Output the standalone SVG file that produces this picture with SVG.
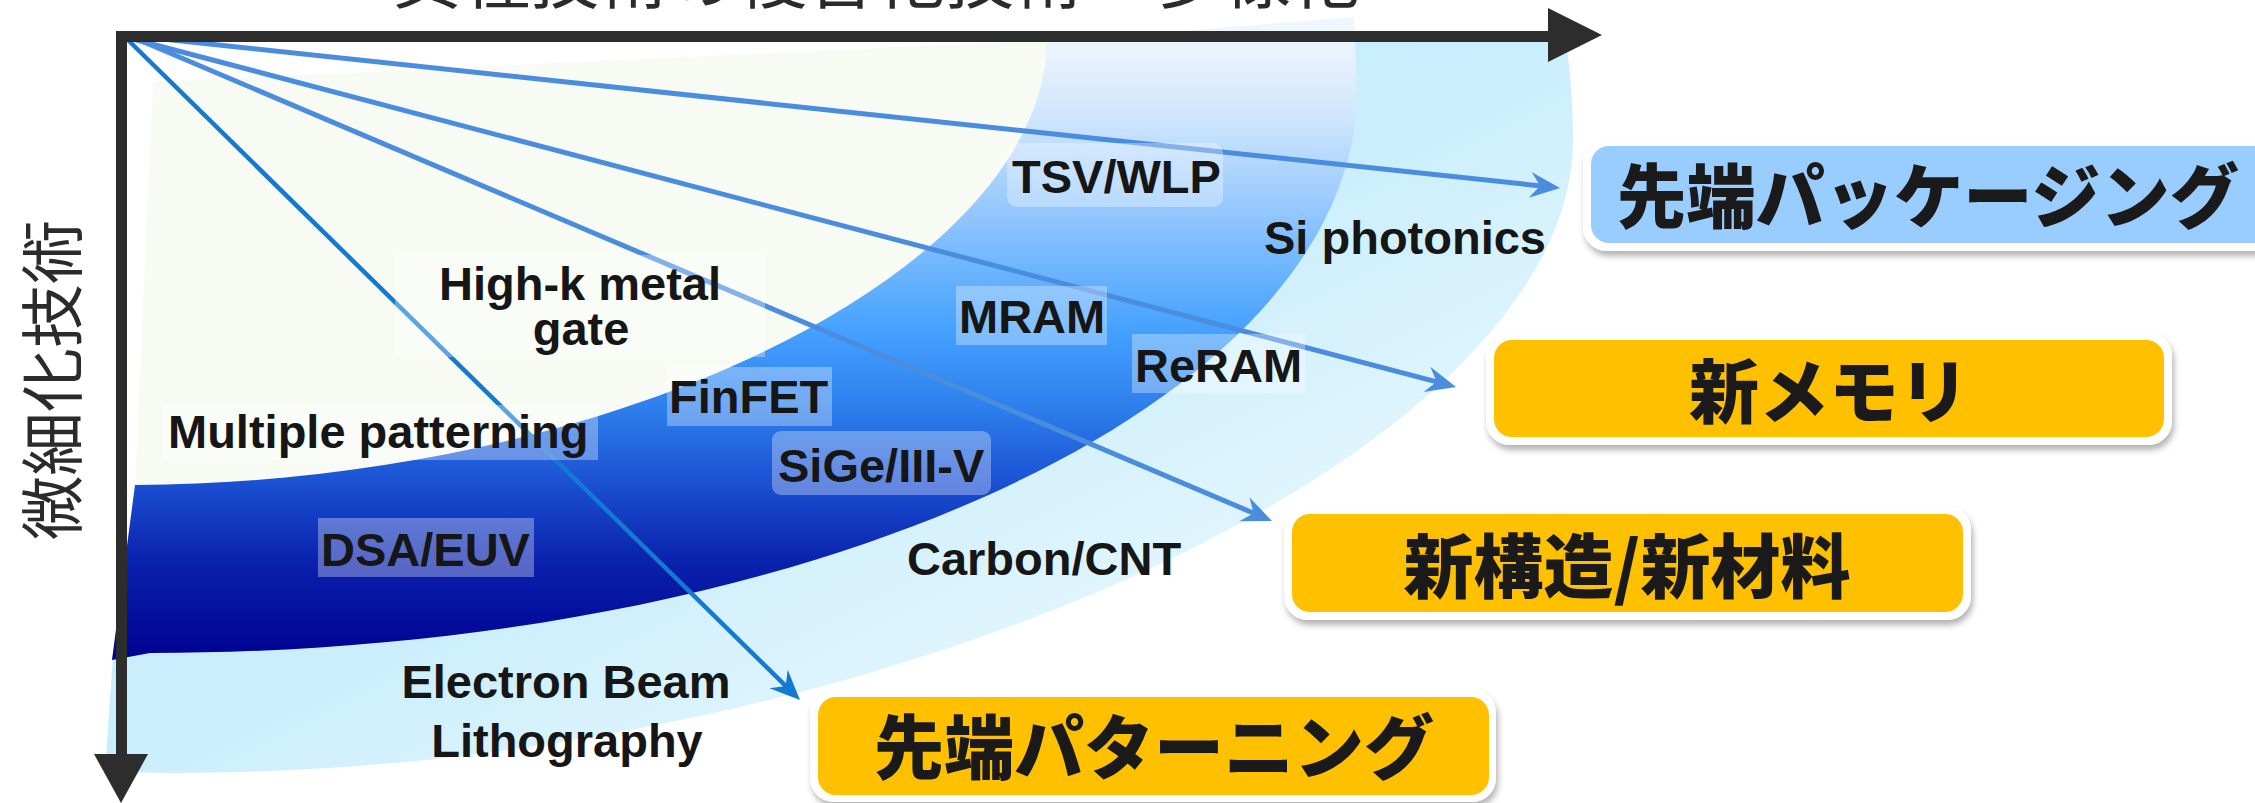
<svg xmlns="http://www.w3.org/2000/svg" width="2255" height="803" viewBox="0 0 2255 803">
<defs>
  <linearGradient id="gBlue" gradientUnits="userSpaceOnUse" x1="0" y1="38" x2="0" y2="660">
    <stop offset="0" stop-color="#eef6fe"/>
    <stop offset="0.13" stop-color="#cfe5fd"/>
    <stop offset="0.29" stop-color="#8fc5fe"/>
    <stop offset="0.47" stop-color="#45a1ff"/>
    <stop offset="0.60" stop-color="#2c7deb"/>
    <stop offset="0.71" stop-color="#1c52d4"/>
    <stop offset="0.84" stop-color="#0a22ad"/>
    <stop offset="1" stop-color="#000090"/>
  </linearGradient>
  <linearGradient id="gCyan" x1="0" y1="0" x2="1" y2="1">
    <stop offset="0" stop-color="#b8e8fb"/>
    <stop offset="0.5" stop-color="#cbeefc"/>
    <stop offset="1" stop-color="#fafeff"/>
  </linearGradient>
  <filter id="shadow" x="-5%" y="-20%" width="110%" height="150%">
    <feDropShadow dx="2" dy="5" stdDeviation="3" flood-color="#000" flood-opacity="0.3"/>
  </filter>
  <marker id="ah" markerUnits="userSpaceOnUse" viewBox="-32 -16 36 32" markerWidth="36" markerHeight="32" refX="-14" refY="0" orient="auto">
    <path d="M0,0 L-30,-13 L-20,0 L-30,13 Z" fill="#4a8ddf"/>
  </marker>
  <marker id="ah2" markerUnits="userSpaceOnUse" viewBox="-32 -16 36 32" markerWidth="36" markerHeight="32" refX="-14" refY="0" orient="auto">
    <path d="M0,0 L-30,-13 L-20,0 L-30,13 Z" fill="#1479d0"/>
  </marker>
  <style>
    .lbl{font-family:"Liberation Sans",Arial,sans-serif;font-weight:700;font-size:47px;fill:#161616}
    .mid{text-anchor:middle}
    .hl{fill:#ffffff;fill-opacity:0.32}
    .jp{font-family:"Noto Sans CJK JP",sans-serif;font-weight:900;font-size:70px;fill:#1a1a1a;text-anchor:middle}
    .conn{fill:none;stroke:#4a8ddf;stroke-width:5;marker-end:url(#ah)}
    .axis{fill:#2d2d2d}
    .frame{fill:#ffffff;filter:url(#shadow)}
    .yel{fill:#ffc000}
    .ax-t{font-family:"Noto Sans CJK JP",sans-serif;font-weight:400;fill:#2b2b2b}
  </style>
</defs>
<rect width="2255" height="803" fill="#ffffff"/>

<g id="bands">
  <path d="M1354,42 L1566,42 C1571,75 1573,110 1573,140 C1573,456 874,773 175,773 L105,772 L113,655 Z" fill="url(#gCyan)"/>
  <path d="M1045,42 L1354,17 L1357,90 C1357,401 816,653 150,653 L112,660 L135,485 Z" fill="url(#gBlue)"/>
  <path d="M153,82 L1047,40 C1045,265 630,482 135,485 Z" fill="#f8fbf3"/>
</g>

<g id="connectors">
  <path class="conn" d="M125,35 L1546.1,186.5"/>
  <path class="conn" d="M125,37 L1442.5,383.4"/>
  <path class="conn" d="M125,34 L1259.1,515.5"/>
  <path class="conn" d="M126,38 L790,690.2" style="stroke:#1479d0;stroke-width:4.5;marker-end:url(#ah2)"/>
</g>

<g id="labels">
  <g id="lbl-highk">
    <rect class="hl" x="395" y="255" width="370" height="102"/>
    <text class="lbl mid" x="580" y="300">High-k metal</text>
    <text class="lbl mid" x="581" y="345">gate</text>
  </g>
  <g id="lbl-multi">
    <rect class="hl" x="163" y="405" width="435" height="55"/>
    <text class="lbl" x="168" y="448">Multiple patterning</text>
  </g>
  <g id="lbl-dsa">
    <rect class="hl" x="318" y="518" width="216" height="59"/>
    <text class="lbl" x="321" y="566">DSA/EUV</text>
  </g>
  <g id="lbl-finfet">
    <rect class="hl" x="667" y="367" width="165" height="59"/>
    <text class="lbl" x="669" y="413">FinFET</text>
  </g>
  <g id="lbl-sige">
    <rect class="hl" x="772" y="431" width="219" height="64" rx="9"/>
    <text class="lbl" x="778" y="482">SiGe/III-V</text>
  </g>
  <g id="lbl-mram">
    <rect class="hl" x="956" y="286" width="151" height="59"/>
    <text class="lbl" x="959" y="333">MRAM</text>
  </g>
  <g id="lbl-reram">
    <rect class="hl" x="1132" y="334" width="173" height="59"/>
    <text class="lbl" x="1135" y="382">ReRAM</text>
  </g>
  <g id="lbl-tsv">
    <rect class="hl" x="1007" y="143" width="216" height="64" rx="10"/>
    <text class="lbl" x="1012" y="193">TSV/WLP</text>
  </g>
  <g id="lbl-siph">
    <text class="lbl" x="1264" y="254">Si photonics</text>
  </g>
  <g id="lbl-carbon">
    <text class="lbl" x="907" y="575">Carbon/CNT</text>
  </g>
  <g id="lbl-ebl">
    <text class="lbl mid" x="566" y="698">Electron Beam</text>
    <text class="lbl mid" x="567" y="757">Lithography</text>
  </g>
</g>

<g id="axes">
  <rect class="axis" x="116" y="31" width="1436" height="11"/>
  <polygon class="axis" points="1548,8 1548,62 1602,35"/>
  <rect class="axis" x="116" y="31" width="11" height="725"/>
  <polygon class="axis" points="94,754 148,754 121,803"/>
  <text class="ax-t" x="392" y="3" font-size="68" textLength="968" lengthAdjust="spacingAndGlyphs">異種技術の複合化技術　多様化</text>
  <text class="ax-t" font-size="64" text-anchor="middle" transform="translate(76,380) rotate(-90)">微細化技術</text>
</g>

<g id="node-packaging">
  <rect class="frame" x="1583" y="138" width="720" height="113" rx="24"/>
  <rect x="1591" y="146" width="720" height="97" rx="18" fill="#99ccff"/>
  <text class="jp" x="1617" y="223" style="text-anchor:start" textLength="622" lengthAdjust="spacingAndGlyphs">先端パッケージング</text>
</g>
<g id="node-memory">
  <rect class="frame" x="1486" y="332" width="686" height="113" rx="24"/>
  <rect class="yel" x="1494" y="340" width="670" height="97" rx="18"/>
  <text class="jp" x="1829" y="418">新メモリ</text>
</g>
<g id="node-structure">
  <rect class="frame" x="1284" y="506" width="687" height="114" rx="24"/>
  <rect class="yel" x="1292" y="514" width="671" height="98" rx="18"/>
  <text class="jp" x="1627" y="593">新構造/新材料</text>
</g>
<g id="node-patterning">
  <rect class="frame" x="810" y="689" width="686" height="113" rx="24"/>
  <rect class="yel" x="818" y="697" width="671" height="98" rx="18"/>
  <text class="jp" x="1154" y="774">先端パターニング</text>
</g>
</svg>
